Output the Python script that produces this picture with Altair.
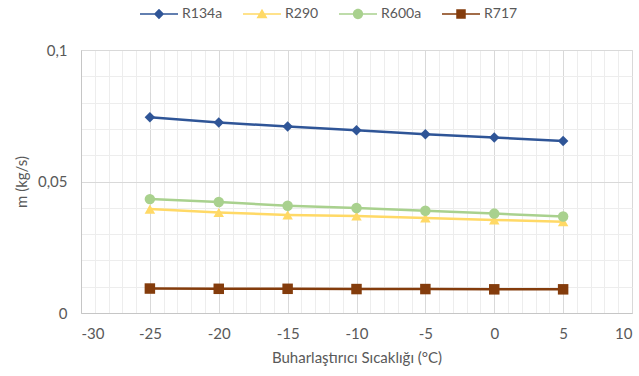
import altair as alt
import pandas as pd

temps = [-25, -20, -15, -10, -5, 0, 5]
series_names = ["R134a", "R290", "R600a", "R717"]
r134a = [0.0744, 0.0724, 0.0709, 0.0695, 0.0680, 0.0667, 0.0654]
r290 = [0.0395, 0.0382, 0.0373, 0.0369, 0.0361, 0.0354, 0.0347]
r600a = [0.0433, 0.0422, 0.0408, 0.0399, 0.0389, 0.0378, 0.0367]
r717 = [0.0093, 0.0092, 0.0092, 0.0091, 0.0091, 0.0090, 0.0090]

colors = ["#2F5597", "#FFD966", "#A9D18E", "#843C0C"]
marker_shapes = ["diamond", "triangle-up", "circle", "square"]
line_bar = "M-1,-0.045H1V0.045H-1Z"
legend_shapes = [
    line_bar + "M-0.27,0L0,-0.27L0.27,0L0,0.27Z",
    line_bar + "M0,-0.27L0.29,0.22L-0.29,0.22Z",
    line_bar + "M-0.27,0A0.27,0.27 0 1,1 0.27,0A0.27,0.27 0 1,1 -0.27,0Z",
    line_bar + "M-0.25,-0.25H0.25V0.25H-0.25Z",
]

rows = []
for name, vals in zip(series_names, [r134a, r290, r600a, r717]):
    for t, v in zip(temps, vals):
        rows.append({"Sicaklik": t, "m": v, "Seri": name})
df = pd.DataFrame(rows)

FONT = "Lato"
GRAY = "#595959"

common_axis = dict(
    labelFont=FONT,
    labelFontSize=15,
    labelColor=GRAY,
    titleFont=FONT,
    titleFontSize=15,
    titleColor=GRAY,
    titleFontWeight="normal",
    gridWidth=1,
    ticks=False,
    domainColor="#c6c6c6",
)

x_enc = alt.X(
    "Sicaklik:Q",
    scale=alt.Scale(domain=[-30, 10], nice=False, zero=False),
    axis=alt.Axis(
        values=list(range(-30, 11)),
        labelExpr="datum.value % 5 === 0 ? (datum.value + '') : ''",
        title="Buharlaştırıcı Sıcaklığı (°C)",
        gridColor={"condition": {"test": "datum.value % 5 === 0", "value": "#d9d9d9"}, "value": "#ededed"},
        labelPadding=13,
        titlePadding=9,
        **common_axis,
    ),
)
y_enc = alt.Y(
    "m:Q",
    scale=alt.Scale(domain=[0, 0.1], nice=False),
    axis=alt.Axis(
        values=[i / 100 for i in range(0, 11)],
        labelExpr="round(datum.value*100) % 5 === 0 ? replace(format(datum.value, '~g'), '.', ',') : ''",
        title="m (kg/s)",
        gridColor={"condition": {"test": "round(datum.value*100) % 5 === 0", "value": "#d9d9d9"}, "value": "#ededed"},
        labelPadding=14,
        titlePadding=8,
        **common_axis,
    ),
)

base = alt.Chart(df)

lines = base.mark_line(strokeWidth=2.5).encode(
    x=x_enc,
    y=y_enc,
    color=alt.Color("Seri:N", scale=alt.Scale(domain=series_names, range=colors), legend=None),
    detail="Seri:N",
)

points = base.mark_point(filled=True, opacity=1, size=110).encode(
    x=x_enc,
    y=y_enc,
    color=alt.Color("Seri:N", scale=alt.Scale(domain=series_names, range=colors), legend=None),
    shape=alt.Shape("Seri:N", scale=alt.Scale(domain=series_names, range=marker_shapes), legend=None),
)

leg = alt.Legend(
    orient="none",
    legendX=59,
    legendY=-55,
    direction="horizontal",
    title=None,
    symbolSize=1444,
    symbolStrokeWidth=0,
    symbolOpacity=1,
    labelFont=FONT,
    labelFontSize=14,
    labelColor=GRAY,
    labelOffset=4,
    columnPadding=20,
)

legend_layer = base.transform_filter("datum.Sicaklik > 100").mark_point(filled=True).encode(
    color=alt.Color("Seri:N", scale=alt.Scale(domain=series_names, range=colors), legend=leg),
    shape=alt.Shape("Seri:N", scale=alt.Scale(domain=series_names, range=legend_shapes), legend=leg),
)

chart = (
    alt.layer(lines, points, legend_layer)
    .resolve_scale(color="independent", shape="independent")
    .properties(
        width=551,
        height=263,
        autosize="none",
        padding={"left": 81, "top": 50, "right": 7, "bottom": 63},
    )
    .configure_view(stroke=None)
    .configure(background="white")
)

chart.save("out.html", embed_options={"renderer": "svg", "actions": False})
